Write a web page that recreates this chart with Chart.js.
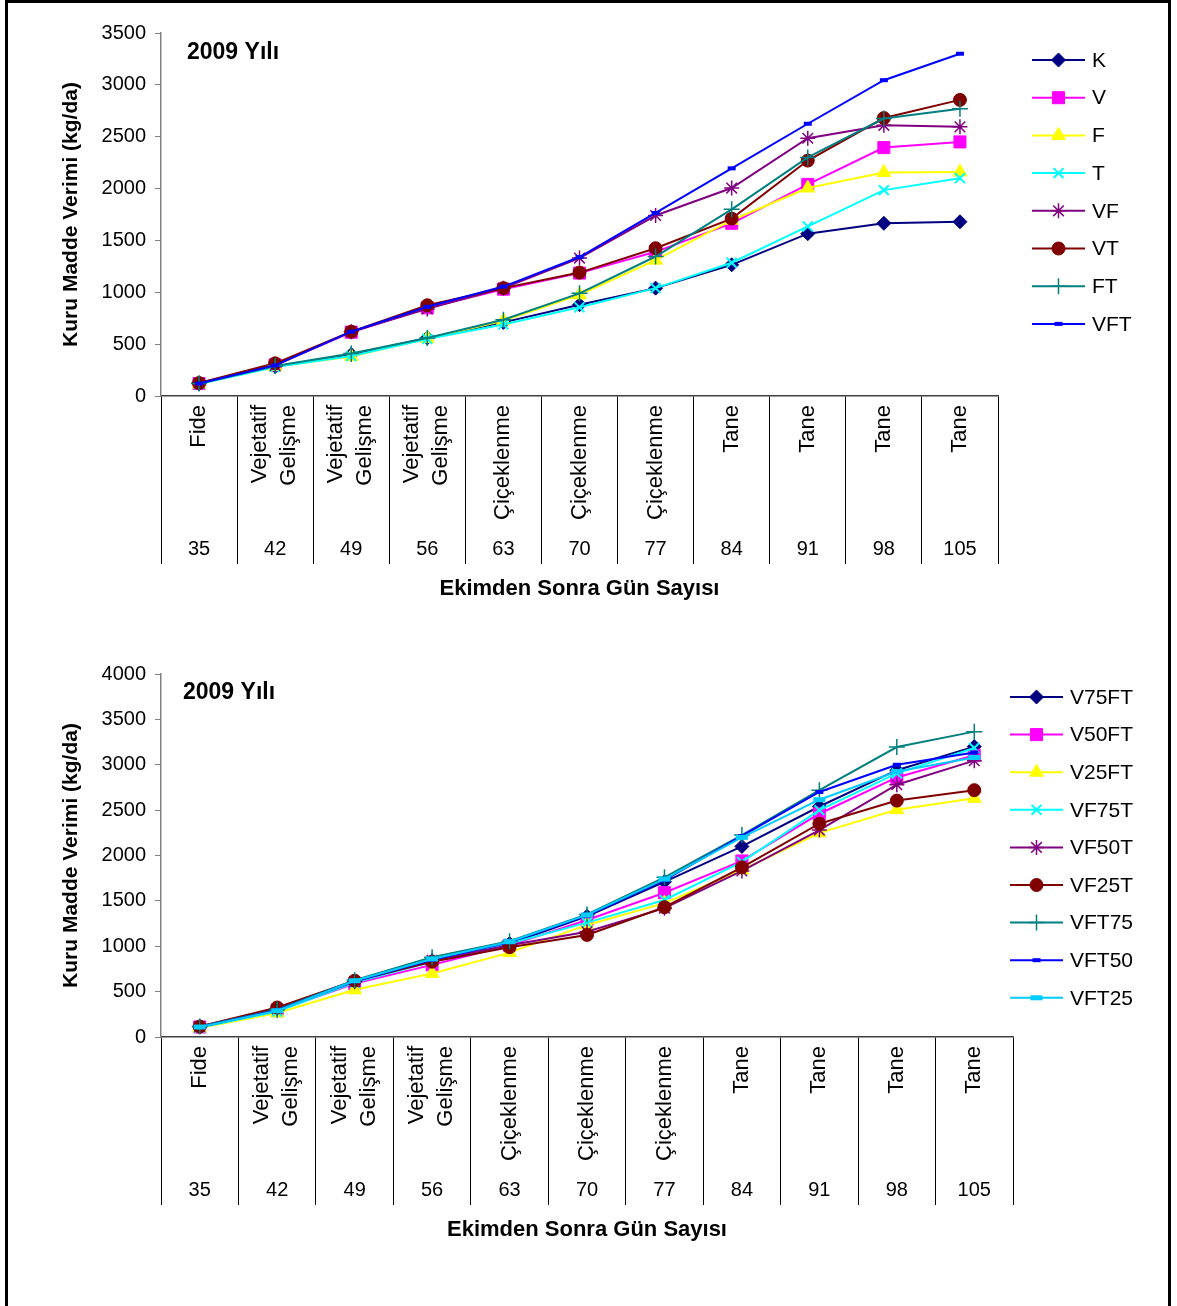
<!DOCTYPE html>
<html><head><meta charset="utf-8">
<script src="https://cdn.jsdelivr.net/npm/chart.js@4.4.1/dist/chart.umd.min.js"></script>
<style>
html,body{margin:0;padding:0;background:#fff;width:1177px;height:1306px;overflow:hidden;}
#frame{position:absolute;left:5px;top:0;width:1166px;height:1400px;border:3px solid #000;box-sizing:border-box;pointer-events:none;}
.box{position:absolute;left:0;width:1177px;height:630px;}
#b1{top:0}
#b2{top:640px}
</style></head><body>
<div class="box" id="b1"><canvas id="c1"></canvas></div>
<div class="box" id="b2"><canvas id="c2"></canvas></div>
<div id="frame"></div>
<script>
// ---- data ----
const days = ['35','42','49','56','63','70','77','84','91','98','105'];
const stages = [['Fide'],['Vejetatif','Gelişme'],['Vejetatif','Gelişme'],['Vejetatif','Gelişme'],['Çiçeklenme'],['Çiçeklenme'],['Çiçeklenme'],['Tane'],['Tane'],['Tane'],['Tane']];
const yearTitle = '2009 Yılı';
const yTitle = 'Kuru Madde Verimi (kg/da)';
const xTitle = 'Ekimden Sonra Gün Sayısı';

const topLabels = ['K','V','F','T','VF','VT','FT','VFT'];
const K   = [120, 285, 400, 560, 710, 880, 1040, 1265, 1565, 1665, 1680];
const V   = [120, 300, 615, 850, 1030, 1185, 1390, 1665, 2040, 2395, 2450];
const F   = [115, 285, 380, 555, 725, 975, 1310, 1695, 2005, 2155, 2160];
const T   = [115, 280, 385, 550, 690, 855, 1040, 1285, 1635, 1985, 2100];
const VF  = [125, 295, 620, 840, 1040, 1330, 1740, 2005, 2485, 2610, 2595];
const VT  = [125, 315, 620, 875, 1040, 1190, 1425, 1710, 2270, 2680, 2855];
const FT  = [120, 290, 410, 560, 735, 990, 1345, 1800, 2300, 2675, 2770];
const VFT = [120, 295, 620, 860, 1055, 1340, 1765, 2195, 2625, 3045, 3300];

const botLabels = ['V75FT','V50FT','V25FT','VF75T','VF50T','VF25T','VFT75','VFT50','VFT25'];
const V75FT = [110, 295, 610, 840, 1030, 1330, 1710, 2100, 2540, 2940, 3200];
const V50FT = [110, 290, 590, 795, 1010, 1290, 1590, 1940, 2460, 2860, 3105];
const V25FT = [100, 265, 520, 700, 930, 1235, 1475, 1840, 2250, 2505, 2630];
const VF75T = [105, 280, 600, 830, 1030, 1260, 1510, 1930, 2500, 2905, 3185];
const VF50T = [115, 310, 610, 845, 1010, 1160, 1420, 1830, 2280, 2780, 3045];
const VF25T = [115, 325, 620, 830, 990, 1125, 1430, 1870, 2350, 2605, 2720];
const VFT75 = [115, 300, 625, 880, 1055, 1350, 1760, 2225, 2720, 3195, 3365];
const VFT50 = [110, 295, 615, 850, 1045, 1340, 1730, 2215, 2700, 3000, 3135];
const VFT25 = [110, 290, 620, 860, 1050, 1345, 1740, 2200, 2615, 2925, 3080];

const topSeries = [K, V, F, T, VF, VT, FT, VFT];
const botSeries = [V75FT, V50FT, V25FT, VF75T, VF50T, VF25T, VFT75, VFT50, VFT25];

// ---- styles ----
const FONT = '"Liberation Sans", Arial, sans-serif';
Chart.defaults.font.family = FONT;
Chart.defaults.color = '#000';

const styles = [
  {c:'#000080', s:'rectRot', r:7, w:1},
  {c:'#FF00FF', s:'rect', r:8.5, w:1},
  {c:'#FFFF00', s:'triangle', r:8, w:1},
  {c:'#00FFFF', s:'crossRot', r:7, w:2},
  {c:'#800080', s:'star', r:7.5, w:1.5},
  {c:'#800000', s:'circle', r:6.5, w:1},
  {c:'#008080', s:'cross', r:8, w:1.5},
  {c:'#0000FF', s:'line', r:4, w:4},
  {c:'#00CCFF', s:'line', r:6, w:5}
];

function makeDatasets(labels, series){
  const n = labels.length;
  return labels.map((lab,i)=>{
    const st = styles[i];
    return {
      label: lab, data: series[i],
      borderColor: st.c, backgroundColor: st.c,
      pointBackgroundColor: st.c, pointBorderColor: st.c,
      pointStyle: st.s, pointRadius: st.r, pointHoverRadius: st.r,
      pointBorderWidth: st.w, borderWidth: 2, tension: 0,
      order: n - 1 - i
    };
  });
}

const sideLegend = {
  id: 'sideLegend',
  afterDraw(chart, args, o){
    const ctx = chart.ctx;
    chart.data.datasets.forEach((ds,i)=>{
      const yy = o.y + i*o.gap;
      ctx.save();
      ctx.strokeStyle = ds.borderColor; ctx.lineWidth = 2;
      ctx.beginPath(); ctx.moveTo(o.x, yy); ctx.lineTo(o.x+o.len, yy); ctx.stroke();
      ctx.fillStyle = ds.pointBackgroundColor; ctx.strokeStyle = ds.pointBorderColor;
      ctx.lineWidth = ds.pointBorderWidth;
      Chart.helpers.drawPoint(ctx, {pointStyle: ds.pointStyle, radius: ds.pointRadius, borderWidth: ds.pointBorderWidth, rotation: 0}, o.x+o.len/2, yy);
      ctx.fillStyle = '#000'; ctx.font = '21px ' + FONT;
      ctx.textAlign = 'left'; ctx.textBaseline = 'middle';
      ctx.fillText(ds.label, o.x+o.len+7, yy+1);
      ctx.restore();
    });
  }
};

const stageLabels = {
  id: 'stageLabels',
  afterDraw(chart, args, o){
    const xs = chart.scales.x, ctx = chart.ctx;
    ctx.save();
    ctx.font = '22px ' + FONT; ctx.fillStyle = '#000';
    ctx.textAlign = 'right'; ctx.textBaseline = 'middle';
    o.labels.forEach((lines,i)=>{
      const px = xs.getPixelForValue(i);
      const offs = lines.length === 1 ? [0] : [-15, 14];
      lines.forEach((t,j)=>{
        ctx.save();
        ctx.translate(px + offs[j], xs.top + o.pad);
        ctx.rotate(-Math.PI/2);
        ctx.fillText(t, 0, 0);
        ctx.restore();
      });
    });
    ctx.restore();
  }
};

const yearLabel = {
  id: 'yearLabel',
  afterDraw(chart, args, o){
    const ctx = chart.ctx, a = chart.chartArea;
    ctx.save();
    ctx.font = 'bold 23px ' + FONT; ctx.fillStyle = '#000';
    ctx.textAlign = 'left'; ctx.textBaseline = 'middle';
    ctx.fillText(o.text, a.left + o.dx, a.top + o.dy);
    ctx.restore();
  }
};

function makeChart(id, labels, series, yMax, pad, legendPos, yearPos){
  return new Chart(document.getElementById(id), {
    type: 'line',
    data: { labels: days, datasets: makeDatasets(labels, series) },
    options: {
      responsive: true, maintainAspectRatio: false, animation: false,
      layout: { padding: pad },
      plugins: {
        legend: { display: false }, tooltip: { enabled: false },
        sideLegend: legendPos,
        stageLabels: { labels: stages, pad: 9 },
        yearLabel: Object.assign({ text: yearTitle }, yearPos)
      },
      scales: {
        x: {
          type: 'category', offset: true,
          grid: { offset: true, drawOnChartArea: false, drawTicks: true, tickLength: 168, color: '#000', lineWidth: 1 },
          border: { color: '#404040', width: 1.5 },
          ticks: { font: { size: 20 }, color: '#000', padding: -27, autoSkip: false, maxRotation: 0, minRotation: 0 },
          title: { display: true, text: xTitle, font: { size: 22, weight: 'bold' }, color: '#000', padding: { top: 0, bottom: 3 } },
          afterFit: s => { s.height = 209; }
        },
        y: {
          min: 0, max: yMax,
          ticks: { stepSize: 500, font: { size: 20 }, color: '#000', padding: 9, format: { useGrouping: false } },
          grid: { drawOnChartArea: false, drawTicks: true, tickLength: 6, color: '#808080' },
          border: { color: '#808080', width: 1.5 },
          title: { display: true, text: yTitle, font: { size: 21, weight: 'bold' }, color: '#000', padding: { top: 59, bottom: 0 } },
          afterFit: s => { s.width = 161; }
        }
      }
    },
    plugins: [sideLegend, stageLabels, yearLabel]
  });
}

makeChart('c1', topLabels, topSeries, 3500,
  { top: 33, right: 179, bottom: 25, left: 0 },
  { x: 1032, y: 60, gap: 37.7, len: 53 },
  { dx: 26, dy: 20 });
makeChart('c2', botLabels, botSeries, 4000,
  { top: 34, right: 164, bottom: 24, left: 0 },
  { x: 1010, y: 57, gap: 37.6, len: 53 },
  { dx: 22, dy: 19 });
</script>
</body></html>
